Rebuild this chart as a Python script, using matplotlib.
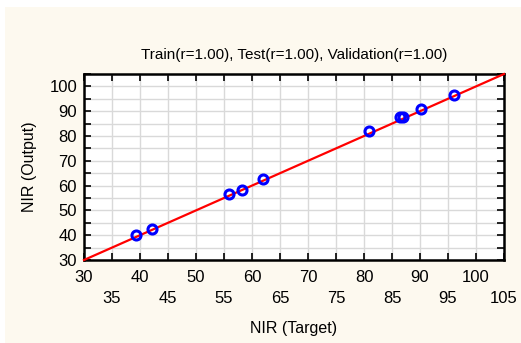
import matplotlib
matplotlib.use('Agg')
import matplotlib.pyplot as plt
from matplotlib.patches import Rectangle

plt.rcParams['font.family'] = ['Liberation Sans', 'DejaVu Sans']

# NIR target vs network output
target = [39.3, 42.1, 55.9, 58.2, 62.0, 80.9, 86.5, 87.0, 90.1, 96.1]
output = [40.1, 42.3, 56.8, 58.4, 62.6, 82.2, 87.6, 87.6, 90.9, 96.7]
fit_x = [30, 105]
fit_y = [30, 105]

title = 'Train(r=1.00), Test(r=1.00), Validation(r=1.00)'
cream = '#FDF9EF'

fig = plt.figure(figsize=(5.21, 3.43), dpi=100)
fig.patch.set_facecolor('white')
fig.patches.append(Rectangle((5 / 521, 0), 1, 1 - 7 / 343, transform=fig.transFigure,
                             facecolor=cream, edgecolor='none', zorder=-10))

ax = fig.add_axes([84 / 521, 1 - 260 / 343, 420 / 521, 186 / 343])
ax.set_facecolor('white')

ax.plot(fit_x, fit_y, color='red', lw=1.6, zorder=3, clip_on=False)
ax.plot(target, output, 'o', mfc='none', mec='blue', mew=2.2, ms=6.5, zorder=4)

ax.set_xlim(30, 105)
ax.set_ylim(30, 105)

ax.set_xticks(range(30, 101, 10))
ax.set_xticks(range(35, 106, 10), minor=True)
ax.set_xticklabels([str(v) for v in range(35, 106, 10)], minor=True)
ax.set_yticks(range(30, 101, 10))
ax.set_yticks(range(35, 106, 10), minor=True)

ax.grid(True, which='both', color='#D9D9D9', lw=1.0, zorder=0)
ax.set_axisbelow(True)

ax.tick_params(which='both', direction='in', length=5, width=1.2,
               top=True, right=True, labelsize=12, colors='black')
ax.tick_params(axis='x', which='major', pad=7)
ax.tick_params(axis='x', which='minor', pad=22)
ax.tick_params(axis='y', which='both', pad=5)

for s in ax.spines.values():
    s.set_linewidth(1.8)
    s.set_color('black')

ax.set_title(title, fontsize=11, pad=11)
ax.set_xlabel('NIR (Target)', fontsize=11.5, labelpad=11)
ax.set_ylabel('NIR (Output)', fontsize=11.5, labelpad=9)

fig.savefig('out.png', dpi=100)
